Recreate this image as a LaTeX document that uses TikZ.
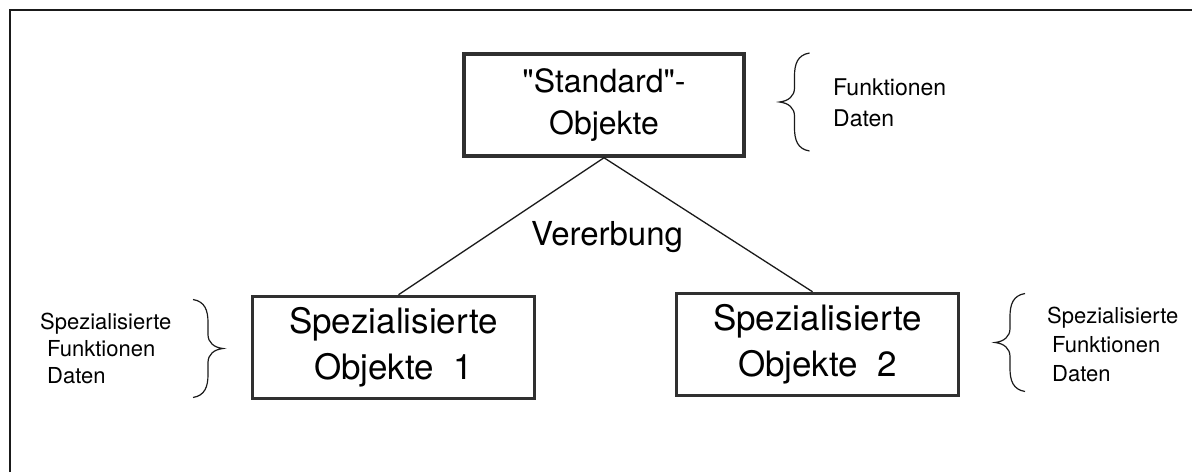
\documentclass[tikz,border=0pt]{standalone}
\usepackage{fontspec}
\setmainfont{TeX Gyre Heros}
\usetikzlibrary{positioning}
\definecolor{ink}{HTML}{1A1A1A}
\definecolor{boxline}{HTML}{303030}

\begin{document}
\begin{tikzpicture}[
  x=1pt, y=-1pt,
  objbox/.style={draw=boxline, line width=3.5pt, minimum width=282pt,
    minimum height=102pt, align=center, inner sep=0pt,
    font=\fontsize{35pt}{46pt}\selectfont},
  sidenote/.style={align=left, inner sep=0pt, anchor=west,
    font=\fontsize{22pt}{27pt}\selectfont},
  linkline/.style={draw=ink, line width=1.3pt},
  bracket/.style={draw=ink, line width=1.2pt},
]
  \useasboundingbox (0,0) rectangle (1192,472);

  % frame
  \draw[ink, line width=2pt] (10,472) -- (10,10) -- (1192,10);

  % objects
  \node[objbox, minimum width=280pt, font=\fontsize{32pt}{42pt}\selectfont]
    (std) at (604,105) {\textquotedbl Standard\textquotedbl-\\Objekte};
  \node[objbox] (spez1) at (393.5,347.5) {Spezialisierte\\Objekte~~1};
  \node[objbox] (spez2) at (817.5,344.5) {Spezialisierte\\Objekte~~2};

  \draw[linkline] (std.south) -- ([xshift=5pt]spez1.north);
  \draw[linkline] (std.south) -- ([xshift=-5pt]spez2.north);
  \node[font=\fontsize{33pt}{40pt}\selectfont, anchor=base]
    (inherit) at (607,245) {Vererbung};

  % notes
  \node[sidenote, font=\fontsize{23pt}{31pt}\selectfont]
    (stdnote) at (833,103) {Funktionen\\Daten};
  \node[sidenote] (note1) at (40,348.5)
    {Spezialisierte\\\hspace*{7pt}Funktionen\\\hspace*{7pt}Daten};
  \node[sidenote, font=\fontsize{22pt}{29pt}\selectfont] (note2) at (1047,344.5)
    {Spezialisierte\\\hspace*{5pt}Funktionen\\\hspace*{5pt}Daten};

  % braces
  \foreach \ex/\my/\s in {809.5/102/1, 193/348.5/-1, 1025/342.5/1}
    \draw[bracket] (\ex,{\my-49})
      .. controls ({\ex-12*\s},{\my-47}) and ({\ex-15*\s},{\my-38}) .. ({\ex-15*\s},{\my-26})
      -- ({\ex-15*\s},{\my-14})
      .. controls ({\ex-15*\s},{\my-6}) and ({\ex-21*\s},{\my-1}) .. ({\ex-30*\s},\my)
      .. controls ({\ex-21*\s},{\my+1}) and ({\ex-15*\s},{\my+6}) .. ({\ex-15*\s},{\my+14})
      -- ({\ex-15*\s},{\my+26})
      .. controls ({\ex-15*\s},{\my+38}) and ({\ex-12*\s},{\my+47}) .. (\ex,{\my+49});
\end{tikzpicture}
\end{document}
